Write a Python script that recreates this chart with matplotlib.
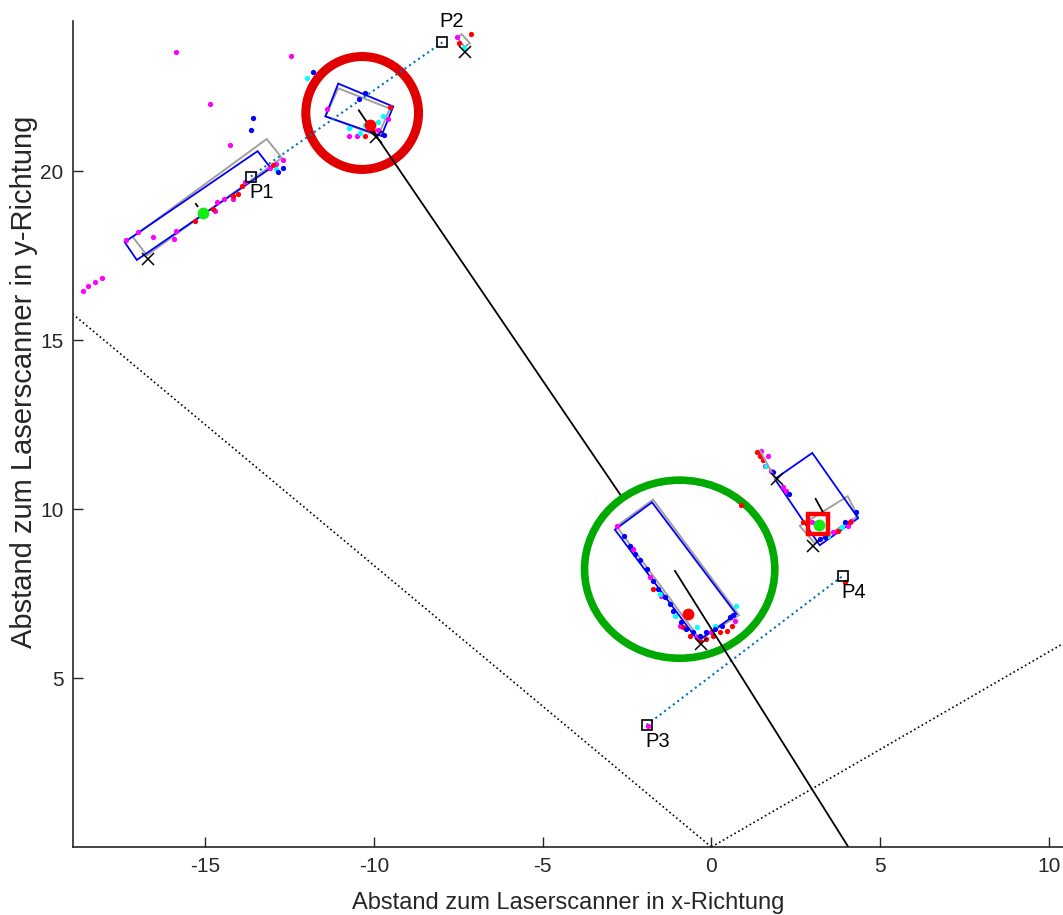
import numpy as np
import matplotlib.pyplot as plt
from matplotlib.patches import Ellipse, Polygon

plt.rcParams['font.family'] = ['Liberation Sans', 'DejaVu Sans']
plt.rcParams['axes.unicode_minus'] = False

# scanner field of view (angles in degrees, range in m)
fov_angles = [30.0, 140.2]
fov_range = 30.0

# object boxes (x, y corners)
box_blue = [
    [(-17.39, 17.90), (-17.03, 17.37), (-13.06, 20.09), (-13.45, 20.59)],
    [(-11.06, 22.59), (-9.43, 21.91), (-9.78, 21.04), (-11.44, 21.62)],
    [(-2.86, 9.39), (-1.76, 10.20), (0.74, 6.89), (-0.39, 6.10)],
    [(1.88, 10.89), (2.99, 11.66), (4.35, 9.73), (3.21, 8.93)],
]
box_gray = [
    [(-17.15, 18.05), (-16.73, 17.51), (-12.73, 20.39), (-13.18, 20.95)],
    [(-11.44, 21.62), (-11.06, 22.45), (-9.53, 21.85), (-9.88, 21.04)],
    [(-2.81, 9.49), (-1.73, 10.28), (0.82, 6.86), (-0.34, 6.15)],
    [(2.62, 9.50), (3.06, 8.99), (4.34, 9.79), (4.04, 10.38)],
    [(-7.54, 23.96), (-7.40, 24.05), (-7.16, 23.79), (-7.31, 23.67)],
]
gray_seg_x = [1.45, 1.89]
gray_seg_y = [11.72, 10.89]

# track / heading lines
track_x = [-10.45, -2.71]
track_y = [21.80, 10.44]
heading_c_x = [-1.08, 4.04]
heading_c_y = [8.17, 0.03]
heading_d_x = [3.09, 3.31]
heading_d_y = [10.30, 9.90]
heading_a_x = [-15.28, -15.23]
heading_a_y = [19.03, 18.96]

# reference points
p_names = ['P1', 'P2', 'P3', 'P4']
p_x = [-13.65, -7.97, -1.92, 3.89]
p_y = [19.84, 23.81, 3.61, 8.02]

# box reference corners
cross_x = [-16.70, -7.31, -9.93, -0.32, 3.00, 1.94]
cross_y = [17.40, 23.51, 21.00, 6.00, 8.91, 10.89]

# scan points per echo class
mag_x = [-15.87, -12.45, -14.85, -14.27, -16.99, -16.55, -15.87, -15.93, -14.72, -14.65,
         -14.45, -14.19, -13.83, -13.07, -12.89, -12.71, -18.62, -18.47, -18.27, -18.05,
         -17.34,
         -10.74, -10.49, -11.39, -9.58, -9.88,
         -7.53,
         -2.81, -2.32, -1.83, -1.48, -0.94, -0.44, 0.00, 0.69,
         1.48, 1.68, 1.58, 1.78, 2.13, 2.20, 3.61, 4.05, 2.97, 4.15,
         -1.88]
mag_y = [23.51, 23.41, 22.00, 20.77, 18.20, 18.06, 18.23, 17.99, 18.81, 19.10,
         19.17, 19.16, 19.68, 20.08, 20.21, 20.33, 16.46, 16.61, 16.72, 16.83,
         17.96,
         21.04, 21.04, 21.85, 21.54, 21.21,
         23.96,
         9.51, 8.82, 7.98, 7.43, 6.55, 6.20, 6.35, 6.70,
         11.72, 11.58, 11.28, 11.13, 10.64, 10.54, 9.31, 9.51, 9.61, 9.65,
         3.58]
red_x = [-15.31, -14.77, -14.03, -13.90, -12.99, -14.19,
         -10.27, -9.53, -10.03,
         -7.11, -7.48,
         -0.84, -0.64, -0.34, -0.15, 0.05, 0.25, 0.45, 0.60, -1.73, 0.88,
         1.35, 1.43, 1.53, 3.76, 4.10, 2.72,
         3.95]
red_y = [18.53, 18.88, 19.32, 19.57, 20.18, 19.27,
         21.04, 21.91, 21.19,
         24.07, 23.78,
         6.50, 6.25, 6.10, 6.15, 6.25, 6.35, 6.40, 6.55, 7.63, 10.12,
         11.68, 11.56, 11.46, 9.36, 9.61, 9.62,
         7.85]
blue_x = [-13.60, -13.65, -12.84, -12.69, -11.82,
          -10.27, -10.44, -9.71,
          -2.60, -2.40, -2.25, -2.12, -1.92, -1.73, -1.58, -1.38, -1.23, -1.14,
          -0.89, -0.74, -0.54, -0.34, -0.15, 0.10, 0.30, 0.55, 0.64,
          1.83, 2.30, 4.30, 3.95, 3.36, 3.21]
blue_y = [21.56, 21.22, 19.98, 20.10, 22.94,
          22.31, 22.13, 21.07,
          9.21, 8.91, 8.67, 8.50, 8.22, 7.88, 7.63, 7.39, 7.19, 6.99,
          6.65, 6.45, 6.35, 6.25, 6.35, 6.45, 6.55, 6.80, 6.86,
          11.09, 10.46, 9.90, 9.61, 9.16, 9.11]
cyan_x = [-11.98, -12.89,
          -9.73, -9.88, -10.27, -10.74, -10.42,
          -7.32,
          0.74, -0.44, 0.10, -1.53, -1.08,
          1.63, 3.86, 3.46]
cyan_y = [22.75, 20.06,
          21.62, 21.44, 21.36, 21.29, 21.14,
          23.65,
          7.14, 6.50, 6.55, 7.49, 6.84,
          11.26, 9.46, 9.21]

# object centres
green_x = [-15.08, 3.18]
green_y = [18.76, 9.53]
redc_x = [-10.12, -0.69]
redc_y = [21.36, 6.89]
sel_x = [3.15]
sel_y = [9.56]

# highlighted objects (centre x, centre y, width, height)
ring_red = (-10.35, 21.72, 3.34, 3.34)
ring_green = (-0.94, 8.22, 5.64, 5.27)

fig = plt.figure(figsize=(10.63, 9.15), dpi=100)
ax = fig.add_axes([0.0687, 0.0743, 0.981, 0.9027])

a = np.radians(fov_angles)
for ang in a:
    ax.plot([0, fov_range * np.cos(ang)], [0, fov_range * np.sin(ang)],
            ':', color='black', lw=1.2)

ax.plot(p_x[:2], p_y[:2], ':', color='#0072BD', lw=1.5)
ax.plot(p_x[2:], p_y[2:], ':', color='#0072BD', lw=1.5)

ms = 3.8
ax.plot(mag_x, mag_y, 'o', color='#FF00FF', ms=ms, mew=0)
ax.plot(red_x, red_y, 'o', color='#FF0000', ms=ms, mew=0)
ax.plot(cyan_x, cyan_y, 'o', color='#00FFFF', ms=ms, mew=0)
ax.plot(blue_x, blue_y, 'o', color='#0000FF', ms=ms, mew=0)

for b in box_gray:
    ax.add_patch(Polygon(b, closed=True, fill=False, ec='#A0A0A0', lw=1.4))
ax.plot(gray_seg_x, gray_seg_y, color='#A0A0A0', lw=1.4)
for b in box_blue:
    ax.add_patch(Polygon(b, closed=True, fill=False, ec='#0000FF', lw=1.3))

ax.plot(track_x, track_y, color='black', lw=1.3)
ax.plot(heading_c_x, heading_c_y, color='black', lw=1.3)
ax.plot(heading_d_x, heading_d_y, color='black', lw=1.3)
ax.plot(heading_a_x, heading_a_y, color='black', lw=1.3)

ax.plot(cross_x, cross_y, 'x', color='black', ms=8, mew=1.1)
ax.plot(p_x, p_y, 's', mfc='none', mec='black', ms=7.5, mew=1.2)
for name, x, y in zip(p_names, p_x, p_y):
    if name == 'P2':
        ax.annotate(name, (x, y), xytext=(-2, 8), textcoords='offset points',
                    ha='left', va='bottom', fontsize=14.5)
    else:
        ax.annotate(name, (x, y), xytext=(-1, -5), textcoords='offset points',
                    ha='left', va='top', fontsize=14.5)

ax.plot(sel_x, sel_y, 's', mfc='none', mec='#FF0000', ms=14, mew=3.2)
ax.plot(redc_x, redc_y, 'o', color='#FF0000', ms=8.5, mew=0)
ax.plot(green_x, green_y, 'o', color='#11EE11', ms=8.5, mew=0)

cx, cy, w, h = ring_red
ax.add_patch(Ellipse((cx, cy), w, h, fill=False, ec='#E00000', lw=6.5))
cx, cy, w, h = ring_green
ax.add_patch(Ellipse((cx, cy), w, h, fill=False, ec='#00AA00', lw=5.5))

ax.set_xlim(-18.92, -18.92 + 0.981 * 1063 / 33.74)
ax.set_ylim(0, 24.44)
ax.set_xticks([-15, -10, -5, 0, 5, 10])
ax.set_yticks([5, 10, 15, 20])
ax.tick_params(direction='in', length=7, width=1.0, labelsize=15,
               colors='#262626', pad=7)
for s in ['top', 'right']:
    ax.spines[s].set_visible(False)
for s in ['left', 'bottom']:
    ax.spines[s].set_linewidth(1.2)
    ax.spines[s].set_color('#262626')

ax.set_xlabel('Abstand zum Laserscanner in x-Richtung', fontsize=17, color='#262626')
ax.set_ylabel('Abstand zum Laserscanner in y-Richtung', fontsize=21, color='#262626')
ax.xaxis.set_label_coords(0.475, -0.055)
ax.yaxis.set_label_coords(-0.034, 0.563)

fig.savefig('out.png', dpi=100)
